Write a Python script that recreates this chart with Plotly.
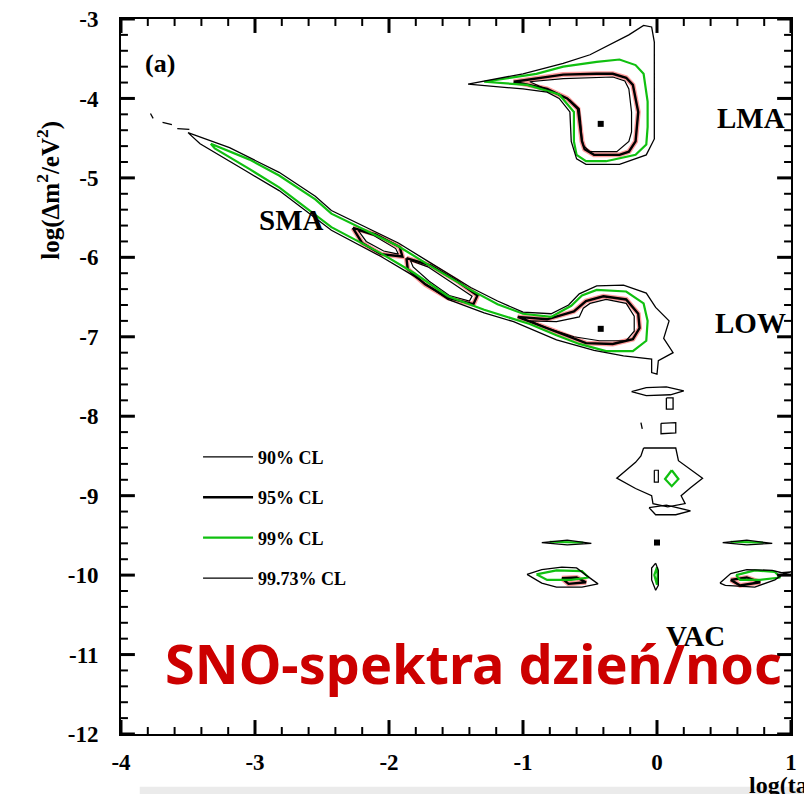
import plotly.graph_objects as go

# ---- axes -------------------------------------------------------------
x_range = [-4, 1]
y_range = [-12, -3]
x_ticks = [-4, -3, -2, -1, 0, 1]
x_ticktext = ["-4", "-3", "-2", "-1", "0", "1"]
y_ticks = [-3, -4, -5, -6, -7, -8, -9, -10, -11, -12]
y_ticktext = ["-3", "-4", "-5", "-6", "-7", "-8", "-9", "-10", "-11", "-12"]
minor_step = 0.2

# ---- allowed regions: vertices in (log tan^2 theta, log dm^2/eV^2) ------
# 99.73% CL
lma_9973 = [(-1.41, -3.82), (-1.00, -3.69), (-0.70, -3.56), (-0.50, -3.45), (-0.21, -3.20),
            (-0.10, -3.08), (-0.04, -3.10), (-0.02, -3.29), (-0.02, -4.51), (-0.08, -4.71),
            (-0.28, -4.83), (-0.53, -4.83), (-0.60, -4.76), (-0.64, -4.54), (-0.65, -4.17),
            (-0.73, -4.00), (-0.82, -3.92), (-1.00, -3.88), (-1.41, -3.82)]
sma_low_9973 = [(-3.50, -4.43), (-3.19, -4.62), (-2.82, -4.93), (-2.55, -5.23), (-2.43, -5.41),
                (-2.18, -5.62), (-1.93, -5.82), (-1.69, -6.07), (-1.39, -6.38), (-1.19, -6.55),
                (-1.00, -6.69), (-0.79, -6.71), (-0.66, -6.60), (-0.58, -6.46), (-0.45, -6.36),
                (-0.25, -6.35), (-0.08, -6.45), (-0.01, -6.63), (0.09, -6.80), (0.05, -7.02),
                (0.12, -7.20), (0.01, -7.30), (0.00, -7.47), (-0.04, -7.45), (-0.04, -7.28),
                (-0.25, -7.24), (-0.47, -7.17), (-0.75, -7.04), (-1.07, -6.81), (-1.29, -6.70),
                (-1.56, -6.53), (-1.81, -6.24), (-2.06, -5.99), (-2.43, -5.66), (-2.82, -5.16),
                (-3.07, -4.91), (-3.41, -4.57), (-3.50, -4.43)]
sma_tip_9973 = [[(-3.78, -4.19), (-3.76, -4.25)],
                [(-3.69, -4.30), (-3.62, -4.33)],
                [(-3.58, -4.38), (-3.49, -4.39)]]
vac_9973 = [
    [(-0.19, -7.69), (-0.08, -7.64), (0.07, -7.63), (0.20, -7.68), (0.10, -7.73), (-0.08, -7.74), (-0.19, -7.69)],
    [(0.07, -7.77), (0.12, -7.77), (0.12, -7.91), (0.07, -7.91), (0.07, -7.77)],
    [(0.03, -8.09), (0.14, -8.08), (0.14, -8.21), (0.03, -8.22), (0.03, -8.09)],
    [(-0.12, -8.08), (-0.11, -8.16)],
    [(-0.10, -8.40), (0.14, -8.40), (0.16, -8.56), (0.24, -8.66), (0.34, -8.78), (0.25, -8.90),
     (0.18, -9.00), (0.21, -9.10), (0.08, -9.14), (-0.03, -9.10), (-0.04, -9.00), (-0.16, -8.91),
     (-0.30, -8.78), (-0.23, -8.68), (-0.16, -8.58), (-0.12, -8.50), (-0.10, -8.40)],
    [(-0.06, -9.15), (0.07, -9.12), (0.25, -9.19), (0.14, -9.24), (-0.01, -9.24), (-0.06, -9.15)],
    [(-0.86, -9.59), (-0.67, -9.56), (-0.49, -9.60), (-0.67, -9.62), (-0.86, -9.59)],
    [(0.49, -9.59), (0.67, -9.56), (0.86, -9.60), (0.67, -9.62), (0.49, -9.59)],
    [(-0.97, -9.99), (-0.86, -9.93), (-0.71, -9.90), (-0.60, -9.91), (-0.53, -10.00), (-0.44, -10.11),
     (-0.56, -10.15), (-0.75, -10.15), (-0.86, -10.10), (-0.97, -9.99)],
    [(0.47, -10.10), (0.55, -9.98), (0.67, -9.93), (0.86, -9.94), (0.93, -9.97), (1.00, -9.96),
     (0.94, -9.99), (0.88, -10.06), (0.73, -10.15), (0.51, -10.13), (0.47, -10.10)],
    [(-0.01, -9.85), (0.01, -9.94), (0.01, -10.13), (-0.01, -10.19), (-0.04, -10.06), (-0.04, -9.91), (-0.01, -9.85)],
]

# 99% CL
lma_99 = [(-1.29, -3.79), (-0.90, -3.69), (-0.70, -3.60), (-0.45, -3.54), (-0.28, -3.51),
          (-0.16, -3.58), (-0.10, -3.69), (-0.07, -4.04), (-0.07, -4.36), (-0.08, -4.58),
          (-0.16, -4.71), (-0.38, -4.79), (-0.53, -4.79), (-0.60, -4.71), (-0.62, -4.54),
          (-0.62, -4.17), (-0.73, -3.95), (-0.97, -3.83), (-1.29, -3.79)]
sma_low_99 = [(-3.33, -4.57), (-3.04, -4.77), (-2.82, -4.97), (-2.55, -5.27), (-2.43, -5.45),
              (-2.18, -5.66), (-1.93, -5.86), (-1.69, -6.11), (-1.39, -6.41), (-1.19, -6.59),
              (-1.00, -6.71), (-0.79, -6.75), (-0.64, -6.61), (-0.56, -6.48), (-0.45, -6.41),
              (-0.23, -6.43), (-0.10, -6.58), (-0.07, -6.80), (-0.08, -7.05), (-0.18, -7.18),
              (-0.38, -7.18), (-0.58, -7.09), (-0.75, -6.98), (-0.95, -6.84), (-1.29, -6.66),
              (-1.56, -6.49), (-1.81, -6.20), (-2.06, -5.95), (-2.43, -5.62), (-2.82, -5.12),
              (-3.04, -4.89), (-3.30, -4.63), (-3.33, -4.57)]
vac_99 = [
    [(0.11, -8.68), (0.16, -8.79), (0.11, -8.88), (0.06, -8.79), (0.11, -8.68)],
    [(-0.90, -9.99), (-0.75, -9.94), (-0.56, -9.95), (-0.51, -10.03), (-0.64, -10.06), (-0.82, -10.06), (-0.90, -9.99)],
    [(0.59, -10.00), (0.73, -9.94), (0.88, -9.96), (0.92, -10.03), (0.77, -10.06), (0.62, -10.06), (0.59, -10.00)],
    [(0.00, -9.90), (0.005, -10.00), (0.00, -10.12), (-0.02, -10.00), (0.00, -9.90)],
    [(-0.80, -9.58), (-0.55, -9.59)],
    [(0.55, -9.58), (0.80, -9.59)],
]

# 95% CL
lma_95 = [(-1.07, -3.79), (-0.70, -3.70), (-0.45, -3.69), (-0.33, -3.69), (-0.23, -3.74),
          (-0.18, -3.83), (-0.14, -4.17), (-0.15, -4.42), (-0.16, -4.54), (-0.21, -4.67),
          (-0.28, -4.71), (-0.47, -4.71), (-0.54, -4.64), (-0.56, -4.54), (-0.58, -4.29),
          (-0.59, -4.13), (-0.67, -4.00), (-0.82, -3.88), (-1.07, -3.79)]
low_95 = [(-1.04, -6.75), (-0.82, -6.78), (-0.62, -6.68), (-0.53, -6.55), (-0.40, -6.49),
          (-0.23, -6.53), (-0.14, -6.71), (-0.13, -6.89), (-0.18, -7.03), (-0.33, -7.09),
          (-0.53, -7.08), (-0.73, -6.95), (-0.92, -6.83), (-1.04, -6.75)]
sma_95 = [
    [(-2.27, -5.63), (-2.10, -5.71), (-1.92, -5.87), (-1.90, -5.99), (-2.06, -5.96), (-2.20, -5.82), (-2.27, -5.63)],
    [(-1.87, -6.01), (-1.69, -6.10), (-1.49, -6.30), (-1.34, -6.48), (-1.37, -6.59), (-1.56, -6.51),
     (-1.73, -6.34), (-1.86, -6.15), (-1.87, -6.01)],
    [(-0.71, -10.04), (-0.60, -10.03), (-0.53, -10.09), (-0.66, -10.11), (-0.71, -10.04)],
    [(0.55, -10.06), (0.67, -10.03), (0.77, -10.09), (0.62, -10.13), (0.55, -10.06)],
]

# 90% CL
lma_90 = [(-0.95, -3.79), (-0.70, -3.75), (-0.33, -3.73), (-0.24, -3.78), (-0.21, -3.88),
          (-0.19, -4.17), (-0.19, -4.42), (-0.21, -4.54), (-0.30, -4.67), (-0.50, -4.67),
          (-0.55, -4.59), (-0.56, -4.51), (-0.57, -4.29), (-0.58, -4.13), (-0.65, -4.02),
          (-0.82, -3.89), (-0.95, -3.79)]
low_90 = [(-0.95, -6.80), (-0.75, -6.81), (-0.58, -6.75), (-0.55, -6.64), (-0.50, -6.58),
          (-0.38, -6.53), (-0.23, -6.58), (-0.17, -6.74), (-0.17, -6.93), (-0.23, -7.05),
          (-0.43, -7.05), (-0.62, -7.00), (-0.82, -6.89), (-0.95, -6.80)]
sma_90 = [
    [(-2.23, -5.66), (-2.12, -5.72), (-1.95, -5.89), (-1.93, -5.96), (-2.04, -5.92), (-2.17, -5.80), (-2.23, -5.66)],
    [(-1.84, -6.04), (-1.71, -6.12), (-1.53, -6.32), (-1.38, -6.49), (-1.40, -6.55), (-1.55, -6.48),
     (-1.70, -6.30), (-1.82, -6.12), (-1.84, -6.04)],
    [(-0.02, -8.68), (0.01, -8.68), (0.01, -8.83), (-0.02, -8.83), (-0.02, -8.68)],
]

# best-fit points
best_x = [-0.42, -0.42, 0.00]
best_y = [-4.32, -6.90, -9.59]

SERIF = "Liberation Serif"
PLOT_W, PLOT_H = 676, 717          # plot area in px (804x794 canvas minus margins)


def join(polys):
    xs, ys = [], []
    for poly in polys:
        xs += [p[0] for p in poly] + [None]
        ys += [p[1] for p in poly] + [None]
    return xs, ys


def minor_positions(majors):
    lo, hi = min(majors), max(majors)
    n = int(round((hi - lo) / minor_step))
    vals = [round(lo + k * minor_step, 6) for k in range(n + 1)]
    return [v for v in vals if all(abs(v - m) > 1e-6 for m in majors)]


def add_frame_ticks(fig, length_px, width, xvals, yvals):
    """Inward tick marks on all four frame sides, as data-space line shapes."""
    dy = length_px * (y_range[1] - y_range[0]) / PLOT_H
    dx = length_px * (x_range[1] - x_range[0]) / PLOT_W
    style = dict(color="black", width=width)
    for v in xvals:
        fig.add_shape(type="line", xref="x", yref="y", x0=v, x1=v,
                      y0=y_range[0], y1=y_range[0] + dy, line=style, layer="above")
        fig.add_shape(type="line", xref="x", yref="y", x0=v, x1=v,
                      y0=y_range[1], y1=y_range[1] - dy, line=style, layer="above")
    for v in yvals:
        fig.add_shape(type="line", xref="x", yref="y", y0=v, y1=v,
                      x0=x_range[0], x1=x_range[0] + dx, line=style, layer="above")
        fig.add_shape(type="line", xref="x", yref="y", y0=v, y1=v,
                      x0=x_range[1], x1=x_range[1] - dx, line=style, layer="above")


fig = go.Figure()

x9973, y9973 = join([lma_9973, sma_low_9973] + sma_tip_9973 + vac_9973)
x99, y99 = join([lma_99, sma_low_99] + vac_99)
x95, y95 = join([lma_95, low_95] + sma_95)
x90, y90 = join([lma_90, low_90] + sma_90)

# pink halo under the 95% lines
fig.add_trace(go.Scatter(x=x95, y=y95, mode="lines", line=dict(color="#ff9c9c", width=5),
                         showlegend=False, hoverinfo="skip", legendgroup="g95"))

fig.add_trace(go.Scatter(x=x90, y=y90, mode="lines", name="90% CL",
                         line=dict(color="black", width=1.2), legendgroup="g90"))
fig.add_trace(go.Scatter(x=x95, y=y95, mode="lines", name="95% CL",
                         line=dict(color="black", width=2.4), legendgroup="g95b"))
fig.add_trace(go.Scatter(x=x99, y=y99, mode="lines", name="99% CL",
                         line=dict(color="#10c010", width=2.2), legendgroup="g99"))
fig.add_trace(go.Scatter(x=x9973, y=y9973, mode="lines", name="99.73% CL",
                         line=dict(color="black", width=1.3), legendgroup="g9973"))
fig.add_trace(go.Scatter(x=best_x, y=best_y, mode="markers", showlegend=False,
                         marker=dict(symbol="square", size=6, color="black")))

# frame tick marks: long at each unit, short every 0.2
add_frame_ticks(fig, 14, 3, x_ticks, y_ticks)
add_frame_ticks(fig, 7, 2, minor_positions(x_ticks), minor_positions(y_ticks))

tick_font = dict(family=SERIF, size=23, color="black", weight="bold")
axis_common = dict(showline=True, linewidth=2, linecolor="black", mirror=True,
                   ticks="", showgrid=False, zeroline=False, tickfont=tick_font)
fig.update_xaxes(range=x_range, tickmode="array", tickvals=x_ticks, ticktext=x_ticktext,
                 ticklabelstandoff=6, **axis_common)
fig.update_yaxes(range=y_range, tickmode="array", tickvals=y_ticks, ticktext=y_ticktext,
                 ticklabelstandoff=16, **axis_common)

label_font = dict(family=SERIF, size=29, color="black", weight="bold")
annotations = [
    dict(x=-3.71, y=-3.56, text="(a)", font=dict(family=SERIF, size=26, color="black", weight="bold")),
    dict(x=0.70, y=-4.25, text="LMA", font=label_font),
    dict(x=-2.73, y=-5.53, text="SMA", font=label_font),
    dict(x=0.70, y=-6.83, text="LOW", font=label_font),
    dict(x=0.29, y=-10.77, text="VAC", font=label_font),
    dict(x=-1.37, y=-11.11, text="SNO-spektra dzień/noc",
         font=dict(family="Noto Sans", size=54, color="#cc0000", weight="bold")),
]
for a in annotations:
    fig.add_annotation(xref="x", yref="y", showarrow=False, **a)

# axis titles
fig.add_annotation(xref="paper", yref="paper", x=-0.135, y=0.86, textangle=-90, showarrow=False,
                   text="log(Δm<sup>2</sup>/eV<sup>2</sup>)",
                   font=dict(family=SERIF, size=25, color="black", weight="bold"))
fig.add_annotation(xref="paper", yref="paper", x=0.935, y=-0.045, xanchor="left", yanchor="top",
                   showarrow=False, text="log(tan<sup>2</sup>θ)",
                   font=dict(family=SERIF, size=24, color="black", weight="bold"))

# light strip along the bottom edge
fig.add_shape(type="rect", xref="paper", yref="paper", x0=0.028, x1=1.02, y0=-0.0738, y1=-0.09,
              fillcolor="#ebebeb", line=dict(width=0), layer="below")

fig.update_layout(
    width=804, height=794,
    margin=dict(l=121, r=7, t=17, b=60),
    paper_bgcolor="white", plot_bgcolor="white",
    legend=dict(x=0.115, y=0.413, xanchor="left", yanchor="top", bgcolor="rgba(0,0,0,0)",
                font=dict(family=SERIF, size=18, color="black", weight="bold"),
                tracegroupgap=14, itemwidth=50),
)

fig.write_html("out.html")
